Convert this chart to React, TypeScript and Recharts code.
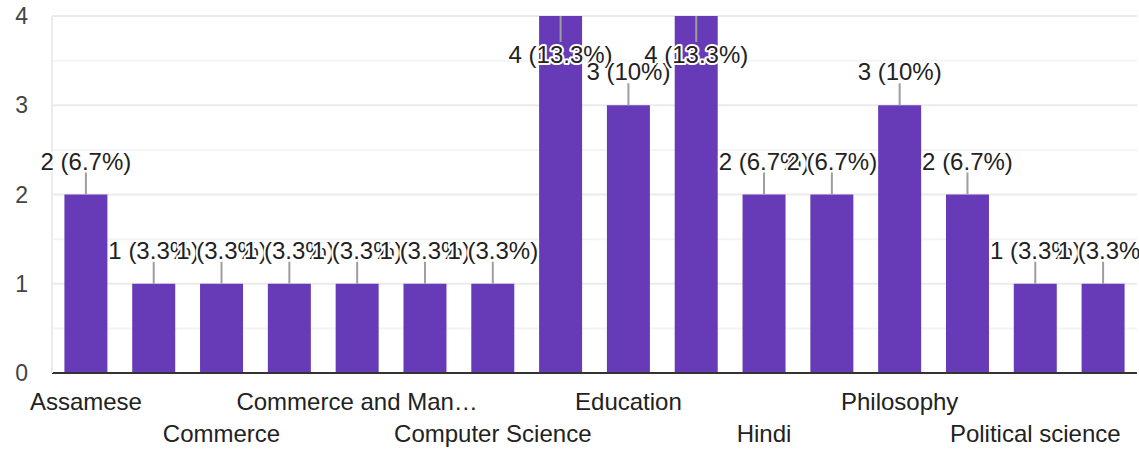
import React from 'react'
import { BarChart, Bar, XAxis, YAxis, CartesianGrid, LabelList } from 'recharts'

// Responses per subject (Google Forms style summary)
const subjects = [
  'Assamese',
  'Bengali',
  'Commerce',
  'Commerce (Accountancy)',
  'Commerce and Man…',
  'Computer Application',
  'Computer Science',
  'Economics',
  'Education',
  'English',
  'Hindi',
  'History',
  'Philosophy',
  'Physics',
  'Political science',
  'Sociology',
]
const counts = [2, 1, 1, 1, 1, 1, 1, 4, 3, 4, 2, 2, 3, 2, 1, 1]
const yTicks = [0, 1, 2, 3, 4]
const minorTicks = [0.5, 1.5, 2.5, 3.5]

const total = counts.reduce((a, b) => a + b, 0)
const data = subjects.map((name, i) => ({ name, count: counts[i] }))

const FONT = '"Liberation Sans", Arial, sans-serif'
const PURPLE = '#673ab7'

const pct = (v: number) => Math.round((v / total) * 1000) / 10

// label with a short leader line; flipped inside the bar when there is no room on top
const BarLabel = (props: any) => {
  const { x, y, width, value } = props
  const cx = x + width / 2
  const inside = y < 60
  const text = `${value} (${pct(value)}%)`
  const lineTop = inside ? y : y - 22
  const lineBottom = inside ? y + 26 : y
  const ty = inside ? y + 47 : y - 25
  return (
    <g>
      <line x1={cx} x2={cx} y1={lineTop} y2={lineBottom} stroke="#9e9e9e" strokeWidth={2} />
      <text
        x={cx}
        y={ty}
        textAnchor="middle"
        fontFamily={FONT}
        fontSize={24}
        fill="#222"
        stroke="#fff"
        strokeWidth={4}
        strokeLinejoin="round"
        paintOrder="stroke"
      >
        {text}
      </text>
    </g>
  )
}

// every other category name, staggered on two rows
const XTick = (props: any) => {
  const { x, y, payload, index } = props
  if (index % 2 !== 0) return null
  const row = (index / 2) % 2
  return (
    <text x={x} y={y + (row === 0 ? 37 : 69)} textAnchor="middle" fontFamily={FONT} fontSize={24} fill="#222">
      {payload.value}
    </text>
  )
}

export default function App() {
  return (
    <div style={{ position: 'absolute', left: 0, top: 0, background: '#fff' }}>
      <BarChart
        width={1139}
        height={449}
        data={data}
        margin={{ top: 16, right: 2, left: 0, bottom: 0 }}
        barCategoryGap="18.3%"
      >
        <CartesianGrid horizontalValues={minorTicks} vertical={false} stroke="#f4f4f4" strokeWidth={2} />
        <CartesianGrid horizontalValues={yTicks} vertical={false} stroke="#ebebeb" strokeWidth={2} />
        <XAxis
          dataKey="name"
          interval={0}
          height={76}
          tickSize={0}
          tickMargin={0}
          tick={<XTick />}
          axisLine={{ stroke: '#333', strokeWidth: 2 }}
          tickLine={false}
        />
        <YAxis
          domain={[0, 4]}
          ticks={yTicks}
          width={52}
          tickSize={0}
          tickMargin={24}
          tickLine={false}
          axisLine={{ stroke: '#ebebeb', strokeWidth: 2 }}
          tick={{ fill: '#444', fontSize: 23, fontFamily: FONT }}
        />
        <Bar dataKey="count" fill={PURPLE} isAnimationActive={false}>
          <LabelList dataKey="count" content={<BarLabel />} />
        </Bar>
      </BarChart>
    </div>
  )
}
